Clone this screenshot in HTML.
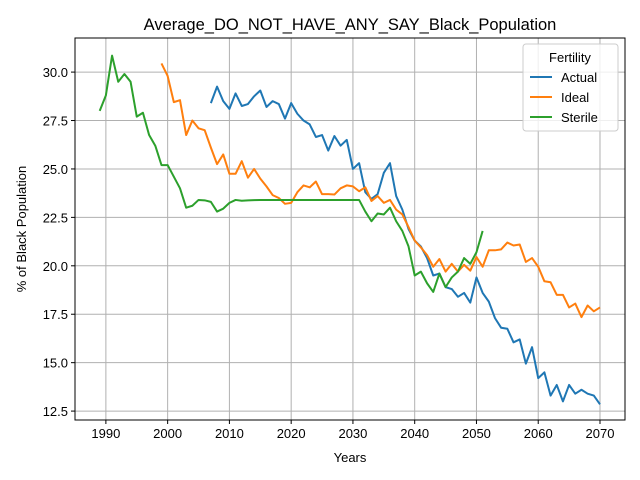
<!DOCTYPE html>
<html><head><meta charset="utf-8"><style>
body{margin:0;background:#fff;}
svg{display:block;font-family:"Liberation Sans","DejaVu Sans",sans-serif;}
</style></head><body>
<svg id="chart" width="640" height="480">
<rect width="640" height="480" fill="#fff"/>
<text x="350" y="30" text-anchor="middle" font-size="16.5">Average_DO_NOT_HAVE_ANY_SAY_Black_Population</text>
<g id="grid"></g>
<g id="series"></g>
<rect x="75" y="38" width="550" height="382" fill="none" stroke="#000" stroke-width="1"/>
<g id="ticks"></g>
<text x="350" y="462" text-anchor="middle" font-size="13">Years</text>
<text transform="translate(26,229) rotate(-90)" text-anchor="middle" font-size="13">% of Black Population</text>
<g>
<rect x="523" y="44" width="95" height="87" rx="3" fill="#fff" fill-opacity="0.8" stroke="#ccc"/>
<text x="570" y="62" text-anchor="middle" font-size="13">Fertility</text>
<line x1="530" y1="77" x2="552" y2="77" stroke="#1f77b4" stroke-width="2"/>
<text x="561" y="82" font-size="13">Actual</text>
<line x1="530" y1="97" x2="552" y2="97" stroke="#ff7f0e" stroke-width="2"/>
<text x="561" y="102" font-size="13">Ideal</text>
<line x1="530" y1="117" x2="552" y2="117" stroke="#2ca02c" stroke-width="2"/>
<text x="561" y="122" font-size="13">Sterile</text>
</g>
</svg>
<script>
const xTicks=[1990,2000,2010,2020,2030,2040,2050,2060,2070];
const yTicks=[12.5,15.0,17.5,20.0,22.5,25.0,27.5,30.0];
const actualStart=2007;
const actualValues=[28.4,29.25,28.5,28.1,28.9,28.25,28.35,28.75,29.05,28.2,28.5,28.35,27.6,28.4,27.85,27.5,27.3,26.65,26.75,25.95,26.7,26.2,26.5,25.0,25.3,23.8,23.45,23.7,24.8,25.3,23.6,22.9,21.9,21.3,21.0,20.4,19.5,19.6,18.9,18.8,18.4,18.6,18.1,19.4,18.6,18.15,17.3,16.8,16.75,16.05,16.2,14.95,15.8,14.2,14.5,13.3,13.85,13.0,13.85,13.4,13.6,13.4,13.3,12.85];
const idealStart=1999;
const idealValues=[30.45,29.8,28.45,28.55,26.75,27.5,27.1,27.0,26.1,25.25,25.75,24.75,24.75,25.4,24.55,25.0,24.5,24.1,23.65,23.5,23.2,23.25,23.8,24.15,24.05,24.35,23.7,23.7,23.68,24.0,24.15,24.1,23.85,24.05,23.35,23.6,23.25,23.4,22.9,22.65,22.0,21.3,20.95,20.55,19.95,20.35,19.7,20.1,19.7,20.05,19.75,20.45,19.95,20.8,20.8,20.85,21.2,21.05,21.1,20.2,20.4,19.95,19.2,19.15,18.5,18.5,17.85,18.05,17.35,17.95,17.65,17.85];
const sterileStart=1989;
const sterileValues=[28.0,28.8,30.85,29.5,29.9,29.5,27.7,27.9,26.75,26.2,25.2,25.2,24.6,24.0,23.0,23.1,23.4,23.38,23.3,22.8,22.95,23.25,23.4,23.36,23.38,23.39,23.4,23.4,23.4,23.4,23.4,23.4,23.4,23.4,23.4,23.4,23.4,23.4,23.4,23.4,23.4,23.4,23.4,22.8,22.3,22.7,22.65,23.0,22.3,21.8,21.0,19.5,19.7,19.1,18.65,19.6,18.9,19.4,19.7,20.4,20.1,20.7,21.8];
const NS="http://www.w3.org/2000/svg";
const X0=75,X1=625,Y0=420,Y1=38,xmin=1985,xmax=2074.05,ymin=12.04,ymax=31.76;
function xs(v){return X0+(v-xmin)/(xmax-xmin)*(X1-X0);}
function ys(v){return Y0-(v-ymin)/(ymax-ymin)*(Y0-Y1);}
function mk(t,a){const e=document.createElementNS(NS,t);for(const k in a)e.setAttribute(k,a[k]);return e;}
const grid=document.getElementById('grid'),ticks=document.getElementById('ticks'),ser=document.getElementById('series');
xTicks.forEach(t=>{const x=xs(t);
 const g=mk('line',{x1:x,x2:x,y1:Y1,y2:Y0,stroke:'#b0b0b0','stroke-width':1});
 
 
 grid.appendChild(g);
 const tk=mk('line',{x1:x,x2:x,y1:Y0,y2:Y0+4,stroke:'#000'});
 
 
 ticks.appendChild(tk);
 const l=mk('text',{x:x,y:Y0+18,'text-anchor':'middle','font-size':13});l.textContent=t;
 
 
 ticks.appendChild(l);});
yTicks.forEach(t=>{const y=ys(t);
 const g=mk('line',{x1:X0,x2:X1,y1:y,y2:y,stroke:'#b0b0b0','stroke-width':1});
 
 
 grid.appendChild(g);
 const tk=mk('line',{x1:X0-4,x2:X0,y1:y,y2:y,stroke:'#000'});
 
 
 ticks.appendChild(tk);
 const l=mk('text',{x:X0-7,y:y+5,'text-anchor':'end','font-size':13});l.textContent=t.toFixed(1);
 
 
 ticks.appendChild(l);});
function line(start,vals,color,name){
 const d=vals.map((v,i)=>(i?'L':'M')+xs(start+i).toFixed(2)+','+ys(v).toFixed(2)).join('');
 const p=mk('path',{d:d,fill:'none',stroke:color,'stroke-width':2,'stroke-linejoin':'round'});
 
 
 ser.appendChild(p);}
line(actualStart,actualValues,'#1f77b4','actual-line');
line(idealStart,idealValues,'#ff7f0e','ideal-line');
line(sterileStart,sterileValues,'#2ca02c','sterile-line');
</script>
</body></html>
